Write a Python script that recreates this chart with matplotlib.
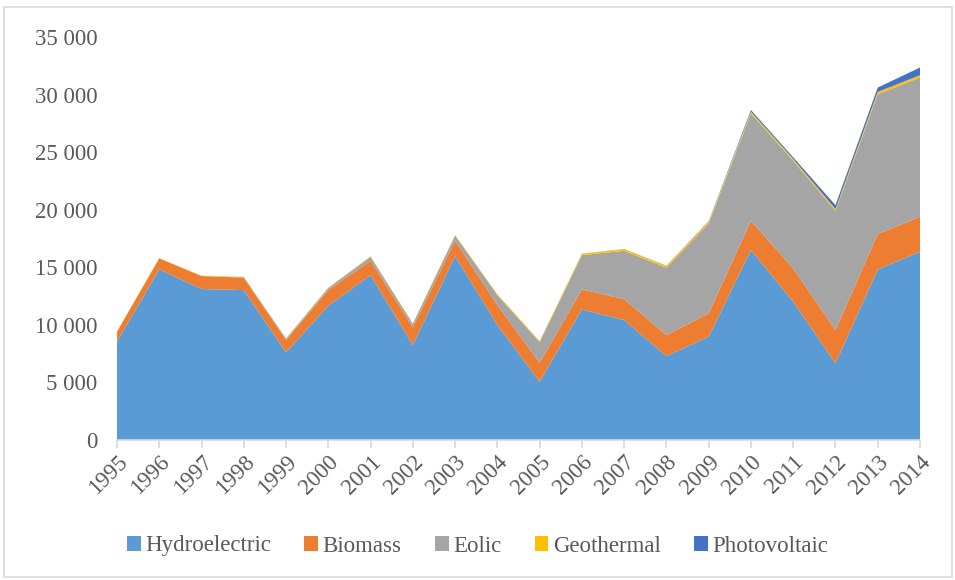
import matplotlib
matplotlib.use("Agg")
import matplotlib.pyplot as plt
from matplotlib.patches import Rectangle
from matplotlib.ticker import FuncFormatter

years = list(range(1995, 2015))
hydroelectric = [8530, 14820, 13110, 13020, 7610, 11660, 14320, 8250, 15970, 9980,
                 5060, 11340, 10420, 7290, 8970, 16490, 12010, 6660, 14810, 16350]
biomass = [870, 950, 1130, 1070, 1070, 1360, 1240, 1530, 1330, 1740,
           1650, 1740, 1820, 1820, 2030, 2550, 2890, 2890, 3070, 3040]
eolic = [0, 0, 0, 60, 120, 180, 350, 300, 450, 870,
         1800, 2980, 4190, 5850, 7810, 9320, 9350, 10350, 12150, 12090]
geothermal = [30, 30, 30, 30, 30, 40, 50, 50, 60, 70,
              80, 120, 150, 150, 150, 150, 150, 150, 200, 200]
photovoltaic = [0, 0, 0, 0, 0, 0, 0, 0, 0, 0,
                0, 5, 10, 20, 40, 150, 150, 350, 380, 670]
series_names = ["Hydroelectric", "Biomass", "Eolic", "Geothermal", "Photovoltaic"]
colors = ["#5B9BD5", "#ED7D31", "#A5A5A5", "#FFC000", "#4472C4"]
y_ticks = [0, 5000, 10000, 15000, 20000, 25000, 30000, 35000]

plt.rcParams['font.family'] = ['Liberation Serif', 'DejaVu Serif']

fig = plt.figure(figsize=(9.55, 5.8), dpi=100)
fig.patches.append(Rectangle((4 / 955, 3 / 580), 948 / 955, 570 / 580,
                             transform=fig.transFigure, fill=False,
                             edgecolor="#D9D9D9", linewidth=1.2))
ax = fig.add_axes([117 / 955, 1 - 440 / 580, (920 - 117) / 955, (440 - 37) / 580])

ax.stackplot(years, hydroelectric, biomass, eolic, geothermal, photovoltaic,
             colors=colors, labels=series_names, linewidth=0)

ax.set_xlim(1995, 2014)
ax.set_ylim(0, 35000)
ax.set_yticks(y_ticks)
ax.yaxis.set_major_formatter(FuncFormatter(lambda v, p: f"{int(v):,}".replace(",", " ")))
ax.set_xticks(years)
ax.set_xticklabels([str(y) for y in years], rotation=45, ha="right", va="top",
                   rotation_mode="anchor")

for s in ["top", "right", "left"]:
    ax.spines[s].set_visible(False)
ax.spines["bottom"].set_color("#D9D9D9")
ax.spines["bottom"].set_linewidth(1.2)
ax.tick_params(axis="y", length=0, pad=14, labelsize=16.5, labelcolor="#595959")
ax.tick_params(axis="x", length=6, width=1.2, color="#D9D9D9", pad=2,
               labelsize=16.5, labelcolor="#595959")

handles, labels = ax.get_legend_handles_labels()
fig.legend(handles, labels, loc="center", bbox_to_anchor=(0.5, 1 - 546 / 580),
           ncol=5, frameon=False, fontsize=16.5, labelcolor="#595959",
           handlelength=0.6, handleheight=0.6, handletextpad=0.2, columnspacing=1.45)

fig.savefig("out.png", dpi=100)
